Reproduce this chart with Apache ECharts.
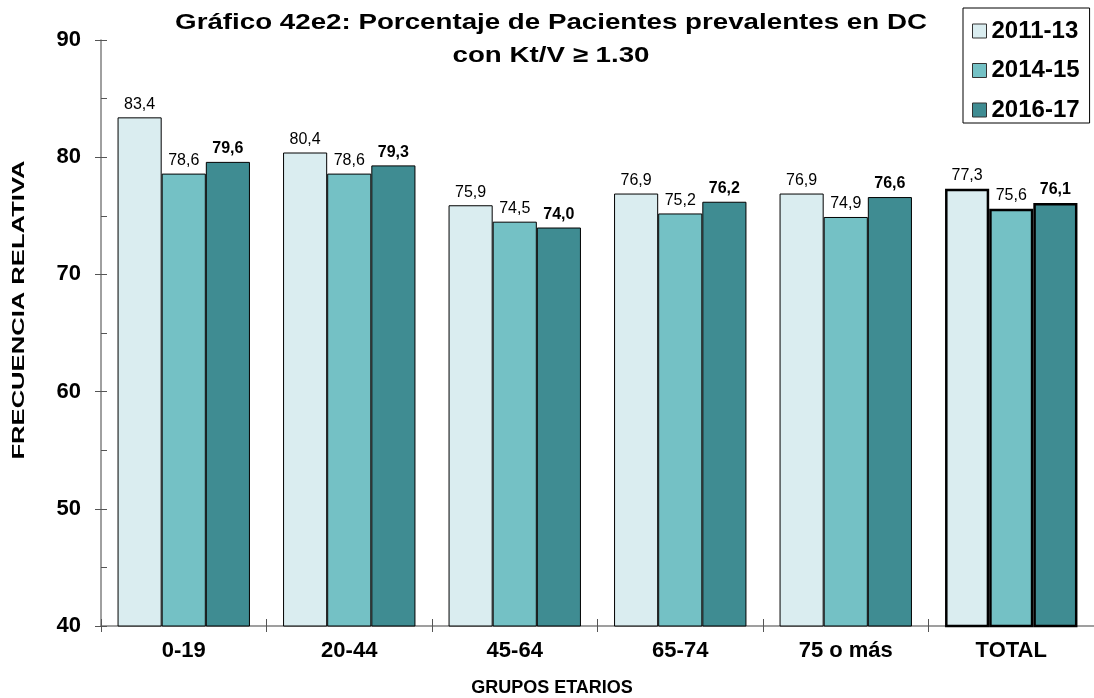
<!DOCTYPE html>
<html>
<head>
<meta charset="utf-8">
<script src="https://cdn.jsdelivr.net/npm/echarts@6/dist/echarts.min.js"></script>
<style>html,body{margin:0;padding:0;background:#fff}#c{width:1094px;height:698px}</style>
</head>
<body>
<div id="c"></div>
<script>
const categories = ['0-19', '20-44', '45-64', '65-74', '75 o más', 'TOTAL'];
const seriesNames = ['2011-13', '2014-15', '2016-17'];
const values2011_13 = [83.4, 80.4, 75.9, 76.9, 76.9, 77.3];
const values2014_15 = [78.6, 78.6, 74.5, 75.2, 74.9, 75.6];
const values2016_17 = [79.6, 79.3, 74.0, 76.2, 76.6, 76.1];
const yTicks = [40, 50, 60, 70, 80, 90];
const titleLines = ['Gráfico 42e2: Porcentaje de Pacientes prevalentes en DC', 'con Kt/V ≥ 1.30'];
const xAxisTitle = 'GRUPOS ETARIOS';
const yAxisTitle = 'FRECUENCIA RELATIVA';

const FONT = '"Liberation Sans", Arial, sans-serif';
const colors = ['#DAEDF0', '#74C1C5', '#3F8C92'];
const allValues = [values2011_13, values2014_15, values2016_17];
const fmt = v => v.toFixed(1).replace('.', ',');

const chart = echarts.init(document.getElementById('c'), null, {renderer: 'canvas'});

const series = allValues.map((vals, si) => ({
  name: seriesNames[si],
  type: 'bar',
  xAxisIndex: 0,
  yAxisIndex: 0,
  barGap: '0%',
  barCategoryGap: '20%',
  itemStyle: {color: colors[si], borderColor: '#000', borderWidth: 1},
  label: {
    show: true, position: 'top', distance: 5,
    fontFamily: FONT, fontSize: 16, color: '#000',
    fontWeight: si === 2 ? 'bold' : 'normal',
    formatter: p => fmt(p.value)
  },
  data: vals.map((v, i) => categories[i] === 'TOTAL'
    ? {value: v, itemStyle: {borderWidth: 2.5, borderColor: '#000'}}
    : v)
}));

const boldText = (size) => `bold ${size}px ${FONT}`;

chart.setOption({
  animation: false,
  backgroundColor: '#fff',
  graphic: [
    {type: 'text', x: 551, y: 23, scaleX: 1.26, silent: true,
      style: {text: titleLines[0], font: boldText(22), fill: '#000', align: 'center', verticalAlign: 'middle'}},
    {type: 'text', x: 551, y: 56, scaleX: 1.26, silent: true,
      style: {text: titleLines[1], font: boldText(22), fill: '#000', align: 'center', verticalAlign: 'middle'}},
    {type: 'text', x: 552, y: 688, silent: true,
      style: {text: xAxisTitle, font: boldText(18), fill: '#000', align: 'center', verticalAlign: 'middle'}},
    {type: 'text', x: 20, y: 310, rotation: Math.PI / 2, scaleX: 1.6, silent: true,
      style: {text: yAxisTitle, font: boldText(16), fill: '#000', align: 'center', verticalAlign: 'middle'}}
  ],
  legend: {
    orient: 'vertical',
    left: 963, top: 8,
    padding: [11, 10, 1, 9],
    borderColor: '#000', borderWidth: 1,
    itemWidth: 14, itemHeight: 14, itemGap: 15.5,
    icon: 'rect',
    itemStyle: {borderColor: '#333', borderWidth: 1},
    textStyle: {fontFamily: FONT, fontSize: 24, fontWeight: 'bold', color: '#000', lineHeight: 24},
    data: seriesNames
  },
  grid: {left: 101, width: 1003, top: 40, height: 586, containLabel: false},
  xAxis: [{
    type: 'category', data: categories,
    axisLine: {lineStyle: {color: '#808080', width: 1.5}},
    axisTick: {show: true, length: 6, lineStyle: {color: '#555'}},
    axisLabel: {fontFamily: FONT, fontSize: 22, fontWeight: 'bold', color: '#000', margin: 14}
  }, {
    type: 'category', data: categories, position: 'bottom',
    axisLine: {show: false},
    axisTick: {show: true, inside: true, length: 7, lineStyle: {color: '#555'}},
    axisLabel: {show: false}
  }],
  yAxis: [{
    type: 'value', min: yTicks[0], max: yTicks[yTicks.length - 1], interval: 10,
    axisLine: {show: true, lineStyle: {color: '#808080', width: 1.5}},
    axisTick: {show: true, inside: true, length: 6, lineStyle: {color: '#555'}},
    minorTick: {show: true, splitNumber: 2, length: 6, lineStyle: {color: '#555'}},
    splitLine: {show: false},
    axisLabel: {fontFamily: FONT, fontSize: 22, fontWeight: 'bold', color: '#000', margin: 20}
  }, {
    type: 'value', min: yTicks[0], max: yTicks[yTicks.length - 1], interval: 10, position: 'left',
    axisLine: {show: false},
    axisTick: {show: true, length: 6, lineStyle: {color: '#555'}},
    splitLine: {show: false},
    axisLabel: {show: false}
  }],
  series: series
});
</script>
</body>
</html>
